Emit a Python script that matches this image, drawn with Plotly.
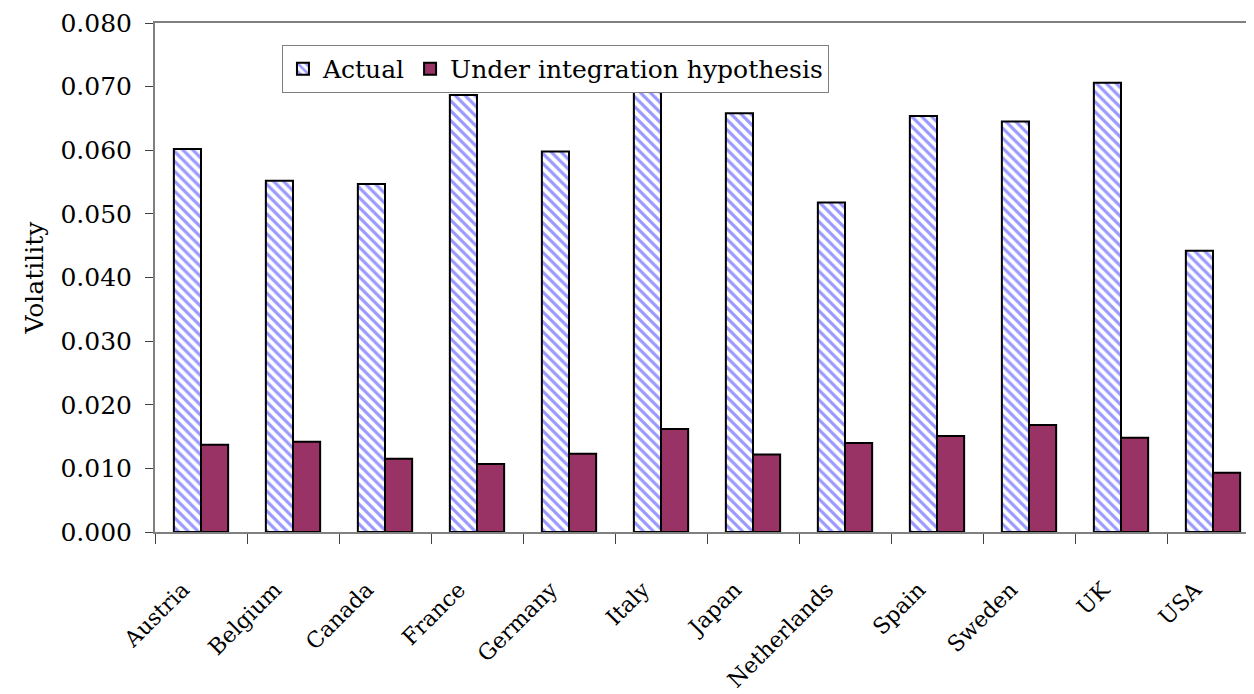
import plotly.graph_objects as go

countries = ["Austria", "Belgium", "Canada", "France", "Germany", "Italy",
             "Japan", "Netherlands", "Spain", "Sweden", "UK", "USA"]
actual = [0.0602, 0.0552, 0.0547, 0.0687, 0.0598, 0.0705,
          0.0658, 0.0518, 0.0654, 0.0645, 0.0706, 0.0442]
integration = [0.0137, 0.0142, 0.0115, 0.0107, 0.0123, 0.0162,
               0.0122, 0.0140, 0.0151, 0.0168, 0.0148, 0.0093]
y_ticks = [0.0, 0.01, 0.02, 0.03, 0.04, 0.05, 0.06, 0.07, 0.08]

FONT = "DejaVu Serif"

fig = go.Figure()
fig.add_trace(go.Bar(
    x=countries, y=actual, name="Actual",
    marker=dict(color="white",
                pattern=dict(shape="\\", fgcolor="#9999ff", bgcolor="white",
                             size=7, solidity=0.45, fillmode="replace"),
                line=dict(color="black", width=2)),
))
fig.add_trace(go.Bar(
    x=countries, y=integration, name="Under integration hypothesis",
    marker=dict(color="#993366", line=dict(color="black", width=2)),
))

fig.update_layout(
    width=1254, height=694, autosize=False,
    margin=dict(l=147, r=3, t=15, b=170),
    paper_bgcolor="white", plot_bgcolor="white",
    barmode="group", bargap=0.41, bargroupgap=0,
    font=dict(family=FONT, color="black", size=24),
    showlegend=True,
    legend=dict(orientation="h", x=0.115, y=0.957, xanchor="left", yanchor="top",
                bgcolor="white", bordercolor="#808080", borderwidth=1,
                font=dict(family=FONT, size=25), itemsizing="constant",
                tracegroupgap=0),
    xaxis=dict(type="category", range=[-0.5, 11.5], automargin=False,
               showline=True, linecolor="#808080", linewidth=2, mirror=True,
               ticks="outside", tickson="boundaries", ticklen=10, tickcolor="#404040",
               tickwidth=1, tickangle=-45, ticklabelstandoff=34, ticklabelshift=-18,
               tickfont=dict(family=FONT, size=22), showgrid=False, zeroline=False),
    yaxis=dict(range=[0, 0.08], tickvals=y_ticks, tickformat=".3f", automargin=False,
               showline=True, linecolor="#808080", linewidth=2, ticklabeloverflow="allow",
               ticks="outside", ticklen=8, tickcolor="#404040", tickwidth=1,
               ticklabelstandoff=8,
               tickfont=dict(family=FONT, size=25), showgrid=False, zeroline=False,
               title=dict(text="Volatility", font=dict(family=FONT, size=25), standoff=10)),
)

fig.write_html("out.html")
